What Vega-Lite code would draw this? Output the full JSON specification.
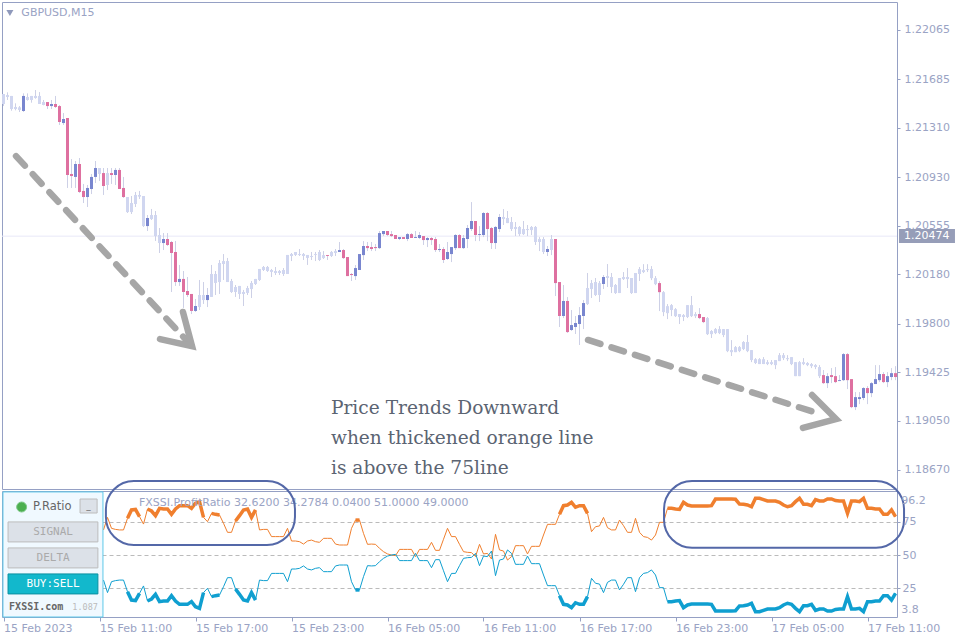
{"$schema":"https://vega.github.io/schema/vega-lite/v6.json","background":"white","padding":{"left":1,"top":1,"right":0,"bottom":0},"spacing":2,"bounds":"flush","config":{"view":{"stroke":"#95a0c4","strokeWidth":1},"axis":{"title":null,"grid":false,"domain":false,"labelFont":"DejaVu Sans","labelFontSize":11,"labelColor":"#9aa3c4","tickColor":"#95a0c4"},"text":{"font":"DejaVu Sans","fontSize":11},"concat":{"spacing":2}},"datasets":{"rows":[
{"t":"2023-02-15T05:00Z","k":"m","o":1.21571,"c":1.21494,"h":1.21571,"l":1.21478},
{"t":"2023-02-15T05:15Z","k":"m","o":1.21563,"c":1.21548,"h":1.21584,"l":1.21525},
{"t":"2023-02-15T05:30Z","k":"m","o":1.21556,"c":1.21455,"h":1.21556,"l":1.21442},
{"t":"2023-02-15T05:45Z","k":"m","o":1.21471,"c":1.21455,"h":1.21499,"l":1.21445},
{"t":"2023-02-15T06:00Z","k":"m","o":1.21468,"c":1.21448,"h":1.21478,"l":1.21432},
{"t":"2023-02-15T06:15Z","k":"u","o":1.2144,"c":1.21556,"h":1.21576,"l":1.21432},
{"t":"2023-02-15T06:30Z","k":"m","o":1.21548,"c":1.21525,"h":1.21576,"l":1.2152},
{"t":"2023-02-15T06:45Z","k":"m","o":1.21556,"c":1.21525,"h":1.21556,"l":1.21504},
{"t":"2023-02-15T07:00Z","k":"m","o":1.21556,"c":1.2154,"h":1.21602,"l":1.21535},
{"t":"2023-02-15T07:15Z","k":"m","o":1.21556,"c":1.21494,"h":1.21586,"l":1.21494},
{"t":"2023-02-15T07:30Z","k":"m","o":1.21509,"c":1.21486,"h":1.21525,"l":1.21484},
{"t":"2023-02-15T07:45Z","k":"d","o":1.21509,"c":1.21478,"h":1.21509,"l":1.21455},
{"t":"2023-02-15T08:00Z","k":"u","o":1.21478,"c":1.21494,"h":1.21525,"l":1.21455},
{"t":"2023-02-15T08:15Z","k":"d","o":1.21494,"c":1.21471,"h":1.21556,"l":1.21463},
{"t":"2023-02-15T08:30Z","k":"d","o":1.21478,"c":1.21355,"h":1.21486,"l":1.21332},
{"t":"2023-02-15T08:45Z","k":"u","o":1.21347,"c":1.21378,"h":1.21424,"l":1.21332},
{"t":"2023-02-15T09:00Z","k":"d","o":1.21386,"c":1.20946,"h":1.21386,"l":1.20846},
{"t":"2023-02-15T09:15Z","k":"d","o":1.20954,"c":1.20938,"h":1.21069,"l":1.20846},
{"t":"2023-02-15T09:30Z","k":"u","o":1.20931,"c":1.21031,"h":1.21054,"l":1.20846},
{"t":"2023-02-15T09:45Z","k":"d","o":1.21031,"c":1.20815,"h":1.21077,"l":1.20807},
{"t":"2023-02-15T10:00Z","k":"d","o":1.20823,"c":1.20776,"h":1.20877,"l":1.2073},
{"t":"2023-02-15T10:15Z","k":"u","o":1.20776,"c":1.20846,"h":1.20869,"l":1.20699},
{"t":"2023-02-15T10:30Z","k":"u","o":1.20838,"c":1.20931,"h":1.20954,"l":1.20799},
{"t":"2023-02-15T10:45Z","k":"u","o":1.20931,"c":1.21,"h":1.21054,"l":1.20884},
{"t":"2023-02-15T11:00Z","k":"m","o":1.21,"c":1.20954,"h":1.21,"l":1.209},
{"t":"2023-02-15T11:15Z","k":"d","o":1.20961,"c":1.20861,"h":1.21,"l":1.20792,"sell":68.8,"buy":31.2},
{"t":"2023-02-15T11:30Z","k":"m","o":1.20961,"c":1.20869,"h":1.21,"l":1.2083,"sell":78.2,"buy":21.8},
{"t":"2023-02-15T11:45Z","k":"d","o":1.20961,"c":1.20946,"h":1.21,"l":1.20877,"sell":70,"buy":30},
{"t":"2023-02-15T12:00Z","k":"u","o":1.20946,"c":1.20985,"h":1.21,"l":1.20869,"sell":69.2,"buy":30.8},
{"t":"2023-02-15T12:15Z","k":"d","o":1.20985,"c":1.20838,"h":1.21,"l":1.20838,"sell":68.8,"buy":31.2},
{"t":"2023-02-15T12:30Z","k":"d","o":1.20846,"c":1.20776,"h":1.20931,"l":1.20769,"sell":68.8,"buy":31.2},
{"t":"2023-02-15T12:45Z","k":"m","o":1.20776,"c":1.2066,"h":1.20776,"l":1.20653,"sell":77.5,"buy":22.5,"seg":1},
{"t":"2023-02-15T13:00Z","k":"m","o":1.2073,"c":1.2066,"h":1.20784,"l":1.20645,"sell":83.8,"buy":16.2,"seg":1},
{"t":"2023-02-15T13:15Z","k":"m","o":1.20792,"c":1.20722,"h":1.20815,"l":1.20699,"sell":84.2,"buy":15.8,"seg":1},
{"t":"2023-02-15T13:30Z","k":"m","o":1.20792,"c":1.20779,"h":1.20823,"l":1.20761,"sell":78.8,"buy":21.2,"seg":1},
{"t":"2023-02-15T13:45Z","k":"m","o":1.20784,"c":1.20552,"h":1.20784,"l":1.20545,"sell":73.2,"buy":26.8},
{"t":"2023-02-15T14:00Z","k":"u","o":1.20552,"c":1.20614,"h":1.20637,"l":1.20514,"sell":84.5,"buy":15.5,"seg":2},
{"t":"2023-02-15T14:15Z","k":"m","o":1.20637,"c":1.20606,"h":1.20684,"l":1.20599,"sell":83,"buy":17,"seg":2},
{"t":"2023-02-15T14:30Z","k":"m","o":1.20637,"c":1.20475,"h":1.20668,"l":1.20437,"sell":79.5,"buy":20.5,"seg":2},
{"t":"2023-02-15T14:45Z","k":"m","o":1.20483,"c":1.20421,"h":1.20537,"l":1.20344,"sell":85,"buy":15,"seg":2},
{"t":"2023-02-15T15:00Z","k":"u","o":1.20421,"c":1.20452,"h":1.20498,"l":1.20367,"sell":84.5,"buy":15.5,"seg":2},
{"t":"2023-02-15T15:15Z","k":"d","o":1.20452,"c":1.20406,"h":1.20498,"l":1.20398,"sell":84.5,"buy":15.5,"seg":2},
{"t":"2023-02-15T15:30Z","k":"d","o":1.20429,"c":1.20344,"h":1.20437,"l":1.20043,"sell":80.5,"buy":19.5,"seg":2},
{"t":"2023-02-15T15:45Z","k":"d","o":1.20352,"c":1.2012,"h":1.20437,"l":1.2009,"sell":84.5,"buy":15.5,"seg":2},
{"t":"2023-02-15T16:00Z","k":"u","o":1.2012,"c":1.20144,"h":1.20252,"l":1.2009,"sell":87,"buy":13,"seg":2},
{"t":"2023-02-15T16:15Z","k":"d","o":1.20144,"c":1.20043,"h":1.20205,"l":1.1992,"sell":87,"buy":13,"seg":2},
{"t":"2023-02-15T16:30Z","k":"d","o":1.20051,"c":1.2002,"h":1.20159,"l":1.20005,"sell":87,"buy":13,"seg":2},
{"t":"2023-02-15T16:45Z","k":"d","o":1.20028,"c":1.19897,"h":1.20028,"l":1.19873,"sell":85,"buy":15,"seg":2},
{"t":"2023-02-15T17:00Z","k":"u","o":1.19897,"c":1.19935,"h":1.19989,"l":1.19889,"sell":88.8,"buy":11.2,"seg":2},
{"t":"2023-02-15T17:15Z","k":"m","o":1.2002,"c":1.19927,"h":1.20136,"l":1.19904,"sell":90,"buy":10,"seg":2},
{"t":"2023-02-15T17:30Z","k":"m","o":1.2002,"c":1.19981,"h":1.2012,"l":1.19951,"sell":78.2,"buy":21.8,"seg":2},
{"t":"2023-02-15T17:45Z","k":"u","o":1.19981,"c":1.2002,"h":1.20074,"l":1.19927,"sell":75,"buy":25},
{"t":"2023-02-15T18:00Z","k":"m","o":1.20182,"c":1.20005,"h":1.20252,"l":1.20005,"sell":81.2,"buy":18.8,"seg":3},
{"t":"2023-02-15T18:15Z","k":"m","o":1.20182,"c":1.20113,"h":1.20205,"l":1.2002,"sell":80.5,"buy":19.5,"seg":3},
{"t":"2023-02-15T18:30Z","k":"m","o":1.20267,"c":1.2012,"h":1.2029,"l":1.20028,"sell":80,"buy":20,"seg":3},
{"t":"2023-02-15T18:45Z","k":"m","o":1.20282,"c":1.20259,"h":1.20336,"l":1.20136,"sell":73.8,"buy":26.2},
{"t":"2023-02-15T19:00Z","k":"m","o":1.20282,"c":1.2012,"h":1.20306,"l":1.2012,"sell":67,"buy":33},
{"t":"2023-02-15T19:15Z","k":"m","o":1.20128,"c":1.20043,"h":1.20144,"l":1.20036,"sell":67,"buy":33},
{"t":"2023-02-15T19:30Z","k":"m","o":1.20082,"c":1.20043,"h":1.20097,"l":1.20005,"sell":75.5,"buy":24.5,"seg":4},
{"t":"2023-02-15T19:45Z","k":"m","o":1.2009,"c":1.20028,"h":1.2009,"l":1.19989,"sell":79.5,"buy":20.5,"seg":4},
{"t":"2023-02-15T20:00Z","k":"m","o":1.20043,"c":1.20028,"h":1.20059,"l":1.19935,"sell":83.8,"buy":16.2,"seg":4},
{"t":"2023-02-15T20:15Z","k":"m","o":1.20074,"c":1.20036,"h":1.2009,"l":1.2002,"sell":84.5,"buy":15.5,"seg":4},
{"t":"2023-02-15T20:30Z","k":"m","o":1.20113,"c":1.20066,"h":1.20128,"l":1.19997,"sell":78.2,"buy":21.8,"seg":4},
{"t":"2023-02-15T20:45Z","k":"m","o":1.20144,"c":1.20105,"h":1.20144,"l":1.20097,"sell":83.8,"buy":16.2,"seg":4},
{"t":"2023-02-15T21:00Z","k":"m","o":1.20221,"c":1.20136,"h":1.20221,"l":1.20128,"sell":68.8,"buy":31.2},
{"t":"2023-02-15T21:15Z","k":"m","o":1.20236,"c":1.20213,"h":1.20244,"l":1.20205,"sell":69.2,"buy":30.8},
{"t":"2023-02-15T21:30Z","k":"m","o":1.20236,"c":1.20205,"h":1.20244,"l":1.20198,"sell":69.2,"buy":30.8},
{"t":"2023-02-15T21:45Z","k":"m","o":1.20213,"c":1.20198,"h":1.20221,"l":1.20159,"sell":63.8,"buy":36.2},
{"t":"2023-02-15T22:00Z","k":"m","o":1.20205,"c":1.2019,"h":1.20236,"l":1.20174,"sell":63.8,"buy":36.2},
{"t":"2023-02-15T22:15Z","k":"m","o":1.20205,"c":1.2019,"h":1.20213,"l":1.20174,"sell":63.8,"buy":36.2},
{"t":"2023-02-15T22:30Z","k":"m","o":1.20213,"c":1.20182,"h":1.20228,"l":1.20167,"sell":63.8,"buy":36.2},
{"t":"2023-02-15T22:45Z","k":"m","o":1.20329,"c":1.20182,"h":1.20329,"l":1.20182,"sell":70,"buy":30},
{"t":"2023-02-15T23:00Z","k":"m","o":1.20336,"c":1.20321,"h":1.20344,"l":1.20282,"sell":60.5,"buy":39.5},
{"t":"2023-02-15T23:15Z","k":"m","o":1.20352,"c":1.20329,"h":1.20352,"l":1.20321,"sell":60.5,"buy":39.5},
{"t":"2023-02-15T23:30Z","k":"m","o":1.20336,"c":1.20329,"h":1.20375,"l":1.20321,"sell":60,"buy":40},
{"t":"2023-02-15T23:45Z","k":"m","o":1.20336,"c":1.20321,"h":1.20344,"l":1.2029,"sell":58.2,"buy":41.8},
{"t":"2023-02-16T00:00Z","k":"m","o":1.20329,"c":1.20306,"h":1.20329,"l":1.20252,"sell":60.5,"buy":39.5},
{"t":"2023-02-16T00:15Z","k":"m","o":1.20321,"c":1.20313,"h":1.20352,"l":1.2029,"sell":61.2,"buy":38.8},
{"t":"2023-02-16T00:30Z","k":"m","o":1.20336,"c":1.20329,"h":1.20352,"l":1.20282,"sell":60,"buy":40},
{"t":"2023-02-16T00:45Z","k":"m","o":1.20352,"c":1.2029,"h":1.20367,"l":1.20282,"sell":59.5,"buy":40.5},
{"t":"2023-02-16T01:00Z","k":"m","o":1.20328,"c":1.20305,"h":1.20359,"l":1.20298,"sell":62.5,"buy":37.5},
{"t":"2023-02-16T01:15Z","k":"d","o":1.20328,"c":1.20321,"h":1.20328,"l":1.2029,"sell":62.5,"buy":37.5},
{"t":"2023-02-16T01:30Z","k":"m","o":1.20352,"c":1.20321,"h":1.20359,"l":1.20313,"sell":62.5,"buy":37.5},
{"t":"2023-02-16T01:45Z","k":"m","o":1.20359,"c":1.20344,"h":1.20375,"l":1.20321,"sell":58.2,"buy":41.8},
{"t":"2023-02-16T02:00Z","k":"u","o":1.20352,"c":1.20367,"h":1.20429,"l":1.20352,"sell":57.5,"buy":42.5},
{"t":"2023-02-16T02:15Z","k":"d","o":1.20367,"c":1.20305,"h":1.20375,"l":1.20298,"sell":57.5,"buy":42.5},
{"t":"2023-02-16T02:30Z","k":"d","o":1.20313,"c":1.20166,"h":1.20313,"l":1.20166,"sell":57.5,"buy":42.5},
{"t":"2023-02-16T02:45Z","k":"d","o":1.20182,"c":1.20174,"h":1.2019,"l":1.20128,"sell":70,"buy":30},
{"t":"2023-02-16T03:00Z","k":"u","o":1.20166,"c":1.20228,"h":1.20251,"l":1.20136,"sell":76.2,"buy":23.8,"seg":5},
{"t":"2023-02-16T03:15Z","k":"u","o":1.20213,"c":1.20336,"h":1.20336,"l":1.20213,"sell":76.2,"buy":23.8,"seg":5},
{"t":"2023-02-16T03:30Z","k":"u","o":1.20328,"c":1.20398,"h":1.20436,"l":1.2029,"sell":66.2,"buy":33.8},
{"t":"2023-02-16T03:45Z","k":"d","o":1.20398,"c":1.20382,"h":1.20429,"l":1.20359,"sell":58,"buy":42},
{"t":"2023-02-16T04:00Z","k":"d","o":1.2039,"c":1.20375,"h":1.20429,"l":1.20359,"sell":58.2,"buy":41.8},
{"t":"2023-02-16T04:15Z","k":"d","o":1.2039,"c":1.20382,"h":1.20413,"l":1.20359,"sell":58,"buy":42},
{"t":"2023-02-16T04:30Z","k":"u","o":1.20382,"c":1.20498,"h":1.20514,"l":1.20375,"sell":55,"buy":45},
{"t":"2023-02-16T04:45Z","k":"u","o":1.2049,"c":1.20514,"h":1.20514,"l":1.20475,"sell":52.5,"buy":47.5},
{"t":"2023-02-16T05:00Z","k":"d","o":1.20514,"c":1.20483,"h":1.20514,"l":1.20475,"sell":50.8,"buy":49.2},
{"t":"2023-02-16T05:15Z","k":"d","o":1.2049,"c":1.20475,"h":1.20514,"l":1.20467,"sell":50,"buy":50},
{"t":"2023-02-16T05:30Z","k":"d","o":1.20483,"c":1.20452,"h":1.20483,"l":1.20452,"sell":49.5,"buy":50.5},
{"t":"2023-02-16T05:45Z","k":"u","o":1.20452,"c":1.20467,"h":1.20467,"l":1.20444,"sell":54.2,"buy":45.8},
{"t":"2023-02-16T06:00Z","k":"d","o":1.20467,"c":1.20452,"h":1.20467,"l":1.20452,"sell":54.2,"buy":45.8},
{"t":"2023-02-16T06:15Z","k":"u","o":1.20452,"c":1.2049,"h":1.20498,"l":1.20436,"sell":54.2,"buy":45.8},
{"t":"2023-02-16T06:30Z","k":"d","o":1.2049,"c":1.2046,"h":1.20498,"l":1.2046,"sell":54.2,"buy":45.8},
{"t":"2023-02-16T06:45Z","k":"u","o":1.2046,"c":1.20467,"h":1.20514,"l":1.2046,"sell":48.8,"buy":51.2},
{"t":"2023-02-16T07:00Z","k":"u","o":1.2046,"c":1.20483,"h":1.20506,"l":1.20452,"sell":54.2,"buy":45.8},
{"t":"2023-02-16T07:15Z","k":"d","o":1.20475,"c":1.20444,"h":1.20475,"l":1.20406,"sell":54.2,"buy":45.8},
{"t":"2023-02-16T07:30Z","k":"u","o":1.20444,"c":1.2046,"h":1.20467,"l":1.2039,"sell":54.2,"buy":45.8},
{"t":"2023-02-16T07:45Z","k":"d","o":1.2046,"c":1.20444,"h":1.20467,"l":1.20406,"sell":59.5,"buy":40.5},
{"t":"2023-02-16T08:00Z","k":"d","o":1.20452,"c":1.20367,"h":1.20467,"l":1.20352,"sell":53.5,"buy":46.5},
{"t":"2023-02-16T08:15Z","k":"u","o":1.20367,"c":1.20375,"h":1.20413,"l":1.20352,"sell":53.5,"buy":46.5},
{"t":"2023-02-16T08:30Z","k":"d","o":1.20375,"c":1.2029,"h":1.2039,"l":1.20267,"sell":61.8,"buy":38.2},
{"t":"2023-02-16T08:45Z","k":"u","o":1.20298,"c":1.20352,"h":1.20429,"l":1.2029,"sell":70,"buy":30},
{"t":"2023-02-16T09:00Z","k":"u","o":1.20336,"c":1.2039,"h":1.2039,"l":1.20274,"sell":63.8,"buy":36.2},
{"t":"2023-02-16T09:15Z","k":"u","o":1.20382,"c":1.20483,"h":1.2049,"l":1.20367,"sell":63.8,"buy":36.2},
{"t":"2023-02-16T09:30Z","k":"d","o":1.20483,"c":1.20382,"h":1.2049,"l":1.20382,"sell":58,"buy":42},
{"t":"2023-02-16T09:45Z","k":"u","o":1.20382,"c":1.2046,"h":1.20483,"l":1.20375,"sell":52.5,"buy":47.5},
{"t":"2023-02-16T10:00Z","k":"u","o":1.20452,"c":1.20537,"h":1.2056,"l":1.20382,"sell":52,"buy":48},
{"t":"2023-02-16T10:15Z","k":"u","o":1.20529,"c":1.20591,"h":1.20737,"l":1.20514,"sell":51.8,"buy":48.2},
{"t":"2023-02-16T10:30Z","k":"d","o":1.20591,"c":1.20483,"h":1.20591,"l":1.20436,"sell":48.8,"buy":51.2},
{"t":"2023-02-16T10:45Z","k":"u","o":1.20483,"c":1.2049,"h":1.20552,"l":1.20436,"sell":58,"buy":42},
{"t":"2023-02-16T11:00Z","k":"u","o":1.20483,"c":1.20653,"h":1.2066,"l":1.20467,"sell":50.8,"buy":49.2},
{"t":"2023-02-16T11:15Z","k":"d","o":1.20653,"c":1.20529,"h":1.2066,"l":1.20436,"sell":51.2,"buy":48.8},
{"t":"2023-02-16T11:30Z","k":"d","o":1.20537,"c":1.20421,"h":1.20545,"l":1.20375,"sell":47,"buy":53},
{"t":"2023-02-16T11:45Z","k":"u","o":1.20421,"c":1.20545,"h":1.20552,"l":1.20375,"sell":65.5,"buy":34.5},
{"t":"2023-02-16T12:00Z","k":"u","o":1.20529,"c":1.20622,"h":1.20645,"l":1.20506,"sell":53.8,"buy":46.2},
{"t":"2023-02-16T12:15Z","k":"m","o":1.20622,"c":1.20606,"h":1.20683,"l":1.2056,"sell":53,"buy":47},
{"t":"2023-02-16T12:30Z","k":"m","o":1.20614,"c":1.20575,"h":1.20668,"l":1.20575,"sell":46.2,"buy":53.8},
{"t":"2023-02-16T12:45Z","k":"m","o":1.20583,"c":1.20529,"h":1.20622,"l":1.20514,"sell":48.8,"buy":51.2},
{"t":"2023-02-16T13:00Z","k":"m","o":1.20545,"c":1.20529,"h":1.20583,"l":1.20475,"sell":57,"buy":43},
{"t":"2023-02-16T13:15Z","k":"m","o":1.20545,"c":1.2049,"h":1.20552,"l":1.20475,"sell":57,"buy":43},
{"t":"2023-02-16T13:30Z","k":"m","o":1.20529,"c":1.2049,"h":1.20591,"l":1.20483,"sell":57,"buy":43},
{"t":"2023-02-16T13:45Z","k":"m","o":1.20529,"c":1.20521,"h":1.2056,"l":1.20475,"sell":50.8,"buy":49.2},
{"t":"2023-02-16T14:00Z","k":"m","o":1.20545,"c":1.20521,"h":1.20552,"l":1.20483,"sell":56.5,"buy":43.5},
{"t":"2023-02-16T14:15Z","k":"m","o":1.20545,"c":1.20429,"h":1.20552,"l":1.20406,"sell":56.5,"buy":43.5},
{"t":"2023-02-16T14:30Z","k":"m","o":1.20452,"c":1.20429,"h":1.20467,"l":1.20359,"sell":56.5,"buy":43.5},
{"t":"2023-02-16T14:45Z","k":"m","o":1.20452,"c":1.20352,"h":1.20467,"l":1.20336,"sell":65,"buy":35},
{"t":"2023-02-16T15:00Z","k":"u","o":1.20352,"c":1.20375,"h":1.20398,"l":1.20321,"sell":73,"buy":27},
{"t":"2023-02-16T15:15Z","k":"m","o":1.20452,"c":1.20367,"h":1.20483,"l":1.20328,"sell":73,"buy":27},
{"t":"2023-02-16T15:30Z","k":"d","o":1.20452,"c":1.20112,"h":1.20452,"l":1.20012,"sell":73,"buy":27},
{"t":"2023-02-16T15:45Z","k":"d","o":1.2012,"c":1.19858,"h":1.2012,"l":1.19773,"sell":80.5,"buy":19.5,"seg":6},
{"t":"2023-02-16T16:00Z","k":"u","o":1.19858,"c":1.19974,"h":1.20097,"l":1.19842,"sell":87,"buy":13,"seg":6},
{"t":"2023-02-16T16:15Z","k":"d","o":1.19974,"c":1.19734,"h":1.20004,"l":1.19727,"sell":87.5,"buy":12.5,"seg":6},
{"t":"2023-02-16T16:30Z","k":"u","o":1.1975,"c":1.19788,"h":1.19904,"l":1.19742,"sell":89.5,"buy":10.5,"seg":6},
{"t":"2023-02-16T16:45Z","k":"u","o":1.19773,"c":1.19804,"h":1.19858,"l":1.19719,"sell":85.8,"buy":14.2,"seg":6},
{"t":"2023-02-16T17:00Z","k":"u","o":1.19796,"c":1.19865,"h":1.19927,"l":1.19634,"sell":87,"buy":13,"seg":6},
{"t":"2023-02-16T17:15Z","k":"u","o":1.19858,"c":1.19958,"h":1.19981,"l":1.19757,"sell":87,"buy":13,"seg":6},
{"t":"2023-02-16T17:30Z","k":"m","o":1.20074,"c":1.1995,"h":1.2019,"l":1.19943,"sell":81.2,"buy":18.8,"seg":6},
{"t":"2023-02-16T17:45Z","k":"m","o":1.20112,"c":1.20066,"h":1.20136,"l":1.19997,"sell":67.5,"buy":32.5},
{"t":"2023-02-16T18:00Z","k":"m","o":1.2012,"c":1.2002,"h":1.20151,"l":1.20012,"sell":71.2,"buy":28.8},
{"t":"2023-02-16T18:15Z","k":"m","o":1.20112,"c":1.2002,"h":1.20128,"l":1.19966,"sell":71.8,"buy":28.2},
{"t":"2023-02-16T18:30Z","k":"u","o":1.20105,"c":1.20159,"h":1.20174,"l":1.20066,"sell":78.2,"buy":21.8},
{"t":"2023-02-16T18:45Z","k":"m","o":1.20166,"c":1.20151,"h":1.20259,"l":1.20082,"sell":70.5,"buy":29.5},
{"t":"2023-02-16T19:00Z","k":"m","o":1.20159,"c":1.20082,"h":1.2019,"l":1.20035,"sell":68.8,"buy":31.2},
{"t":"2023-02-16T19:15Z","k":"m","o":1.20097,"c":1.20035,"h":1.20105,"l":1.20028,"sell":68.8,"buy":31.2},
{"t":"2023-02-16T19:30Z","k":"m","o":1.20151,"c":1.20035,"h":1.20151,"l":1.20035,"sell":76.2,"buy":23.8},
{"t":"2023-02-16T19:45Z","k":"m","o":1.20159,"c":1.20143,"h":1.20197,"l":1.20136,"sell":72,"buy":28},
{"t":"2023-02-16T20:00Z","k":"m","o":1.20159,"c":1.20143,"h":1.20228,"l":1.20074,"sell":67,"buy":33},
{"t":"2023-02-16T20:15Z","k":"m","o":1.20151,"c":1.20035,"h":1.20151,"l":1.20028,"sell":67,"buy":33},
{"t":"2023-02-16T20:30Z","k":"m","o":1.2019,"c":1.20035,"h":1.2019,"l":1.20035,"sell":77.5,"buy":22.5},
{"t":"2023-02-16T20:45Z","k":"m","o":1.2022,"c":1.20182,"h":1.20236,"l":1.20128,"sell":67,"buy":33},
{"t":"2023-02-16T21:00Z","k":"m","o":1.20212,"c":1.20197,"h":1.20258,"l":1.20189,"sell":63.8,"buy":36.2},
{"t":"2023-02-16T21:15Z","k":"m","o":1.2022,"c":1.20212,"h":1.20258,"l":1.20197,"sell":63.2,"buy":36.8},
{"t":"2023-02-16T21:30Z","k":"m","o":1.2022,"c":1.2015,"h":1.20243,"l":1.20135,"sell":61.2,"buy":38.8},
{"t":"2023-02-16T21:45Z","k":"m","o":1.2015,"c":1.20104,"h":1.20166,"l":1.20096,"sell":65,"buy":35},
{"t":"2023-02-16T22:00Z","k":"d","o":1.20112,"c":1.20042,"h":1.20127,"l":1.19896,"sell":74.5,"buy":25.5},
{"t":"2023-02-16T22:15Z","k":"m","o":1.20042,"c":1.19888,"h":1.2005,"l":1.19857,"sell":74.5,"buy":25.5},
{"t":"2023-02-16T22:30Z","k":"m","o":1.19934,"c":1.1988,"h":1.1995,"l":1.19834,"sell":85,"buy":15,"seg":7},
{"t":"2023-02-16T22:45Z","k":"m","o":1.19942,"c":1.19904,"h":1.1995,"l":1.19857,"sell":85,"buy":15,"seg":7},
{"t":"2023-02-16T23:00Z","k":"m","o":1.19911,"c":1.19857,"h":1.19919,"l":1.1985,"sell":84.5,"buy":15.5,"seg":7},
{"t":"2023-02-16T23:15Z","k":"m","o":1.19873,"c":1.1985,"h":1.19873,"l":1.19796,"sell":84.2,"buy":15.8,"seg":7},
{"t":"2023-02-16T23:30Z","k":"m","o":1.19865,"c":1.1985,"h":1.19873,"l":1.19819,"sell":89.5,"buy":10.5,"seg":7},
{"t":"2023-02-16T23:45Z","k":"m","o":1.19942,"c":1.1985,"h":1.19942,"l":1.19842,"sell":87.5,"buy":12.5,"seg":7},
{"t":"2023-02-17T00:00Z","k":"m","o":1.19942,"c":1.19857,"h":1.20012,"l":1.1985,"sell":86.8,"buy":13.2,"seg":7},
{"t":"2023-02-17T00:15Z","k":"m","o":1.19873,"c":1.19857,"h":1.19888,"l":1.19842,"sell":86.8,"buy":13.2,"seg":7},
{"t":"2023-02-17T00:30Z","k":"d","o":1.19873,"c":1.19842,"h":1.19919,"l":1.19834,"sell":86.8,"buy":13.2,"seg":7},
{"t":"2023-02-17T00:45Z","k":"d","o":1.1985,"c":1.19811,"h":1.1985,"l":1.19803,"sell":86.8,"buy":13.2,"seg":7},
{"t":"2023-02-17T01:00Z","k":"m","o":1.19842,"c":1.19718,"h":1.1985,"l":1.19711,"sell":86.8,"buy":13.2,"seg":7},
{"t":"2023-02-17T01:15Z","k":"m","o":1.19742,"c":1.19718,"h":1.19749,"l":1.19688,"sell":87,"buy":13,"seg":7},
{"t":"2023-02-17T01:30Z","k":"m","o":1.19757,"c":1.19726,"h":1.19765,"l":1.19718,"sell":92,"buy":8,"seg":7},
{"t":"2023-02-17T01:45Z","k":"m","o":1.19757,"c":1.19726,"h":1.1978,"l":1.19718,"sell":92,"buy":8,"seg":7},
{"t":"2023-02-17T02:00Z","k":"m","o":1.19757,"c":1.19711,"h":1.19757,"l":1.19695,"sell":92,"buy":8,"seg":7},
{"t":"2023-02-17T02:15Z","k":"m","o":1.19757,"c":1.19587,"h":1.19757,"l":1.19579,"sell":92,"buy":8,"seg":7},
{"t":"2023-02-17T02:30Z","k":"m","o":1.19595,"c":1.19579,"h":1.19672,"l":1.19549,"sell":92,"buy":8,"seg":7},
{"t":"2023-02-17T02:45Z","k":"m","o":1.19618,"c":1.19579,"h":1.19626,"l":1.19579,"sell":91.8,"buy":8.2,"seg":7},
{"t":"2023-02-17T03:00Z","k":"m","o":1.19618,"c":1.19587,"h":1.19626,"l":1.19579,"sell":88.2,"buy":11.8,"seg":7},
{"t":"2023-02-17T03:15Z","k":"m","o":1.19657,"c":1.19603,"h":1.19664,"l":1.19595,"sell":88,"buy":12,"seg":7},
{"t":"2023-02-17T03:30Z","k":"m","o":1.19657,"c":1.19587,"h":1.19711,"l":1.19579,"sell":87.5,"buy":12.5,"seg":7},
{"t":"2023-02-17T03:45Z","k":"m","o":1.19595,"c":1.19518,"h":1.19595,"l":1.19502,"sell":86.2,"buy":13.8,"seg":7},
{"t":"2023-02-17T04:00Z","k":"m","o":1.19525,"c":1.19495,"h":1.19533,"l":1.19487,"sell":92.5,"buy":7.5,"seg":7},
{"t":"2023-02-17T04:15Z","k":"m","o":1.19525,"c":1.19487,"h":1.19533,"l":1.19487,"sell":92.5,"buy":7.5,"seg":7},
{"t":"2023-02-17T04:30Z","k":"m","o":1.19525,"c":1.19487,"h":1.19541,"l":1.19487,"sell":91.5,"buy":8.5,"seg":7},
{"t":"2023-02-17T04:45Z","k":"m","o":1.19502,"c":1.19487,"h":1.19518,"l":1.19479,"sell":90.5,"buy":9.5,"seg":7},
{"t":"2023-02-17T05:00Z","k":"m","o":1.19502,"c":1.19487,"h":1.19518,"l":1.19479,"sell":90.5,"buy":9.5,"seg":7},
{"t":"2023-02-17T05:15Z","k":"m","o":1.19518,"c":1.19479,"h":1.19518,"l":1.19448,"sell":90.5,"buy":9.5,"seg":7},
{"t":"2023-02-17T05:30Z","k":"m","o":1.19556,"c":1.1951,"h":1.19572,"l":1.1951,"sell":89.5,"buy":10.5,"seg":7},
{"t":"2023-02-17T05:45Z","k":"m","o":1.19556,"c":1.19533,"h":1.19572,"l":1.19518,"sell":87.5,"buy":12.5,"seg":7},
{"t":"2023-02-17T06:00Z","k":"m","o":1.19533,"c":1.19525,"h":1.19556,"l":1.1951,"sell":86.2,"buy":13.8,"seg":7},
{"t":"2023-02-17T06:15Z","k":"m","o":1.19541,"c":1.19487,"h":1.19541,"l":1.19479,"sell":87,"buy":13,"seg":7},
{"t":"2023-02-17T06:30Z","k":"m","o":1.19502,"c":1.19394,"h":1.19502,"l":1.19394,"sell":90,"buy":10,"seg":7},
{"t":"2023-02-17T06:45Z","k":"m","o":1.19502,"c":1.19394,"h":1.1951,"l":1.19394,"sell":92.5,"buy":7.5,"seg":7},
{"t":"2023-02-17T07:00Z","k":"m","o":1.19502,"c":1.19487,"h":1.19533,"l":1.19479,"sell":88,"buy":12,"seg":7},
{"t":"2023-02-17T07:15Z","k":"m","o":1.19495,"c":1.19479,"h":1.19502,"l":1.19471,"sell":88,"buy":12,"seg":7},
{"t":"2023-02-17T07:30Z","k":"m","o":1.19487,"c":1.19471,"h":1.19495,"l":1.19456,"sell":87,"buy":13,"seg":7},
{"t":"2023-02-17T07:45Z","k":"m","o":1.19479,"c":1.19464,"h":1.19487,"l":1.19448,"sell":91.5,"buy":8.5,"seg":7},
{"t":"2023-02-17T08:00Z","k":"m","o":1.19464,"c":1.19394,"h":1.19479,"l":1.19379,"sell":90.5,"buy":9.5,"seg":7},
{"t":"2023-02-17T08:15Z","k":"d","o":1.19402,"c":1.1934,"h":1.19441,"l":1.19333,"sell":90.5,"buy":9.5,"seg":7},
{"t":"2023-02-17T08:30Z","k":"u","o":1.1934,"c":1.19394,"h":1.19417,"l":1.19302,"sell":92,"buy":8,"seg":7},
{"t":"2023-02-17T08:45Z","k":"d","o":1.19402,"c":1.19387,"h":1.19456,"l":1.1934,"sell":92,"buy":8,"seg":7},
{"t":"2023-02-17T09:00Z","k":"d","o":1.19394,"c":1.19348,"h":1.19464,"l":1.1934,"sell":90.8,"buy":9.2,"seg":7},
{"t":"2023-02-17T09:15Z","k":"u","o":1.19356,"c":1.19363,"h":1.19402,"l":1.19356,"sell":90.5,"buy":9.5,"seg":7},
{"t":"2023-02-17T09:30Z","k":"u","o":1.19363,"c":1.19564,"h":1.19572,"l":1.19356,"sell":90.5,"buy":9.5,"seg":7},
{"t":"2023-02-17T09:45Z","k":"d","o":1.19564,"c":1.19363,"h":1.19572,"l":1.19294,"sell":81.2,"buy":18.8,"seg":7},
{"t":"2023-02-17T10:00Z","k":"d","o":1.19371,"c":1.19155,"h":1.19371,"l":1.19147,"sell":90.5,"buy":9.5,"seg":7},
{"t":"2023-02-17T10:15Z","k":"u","o":1.19155,"c":1.19232,"h":1.19271,"l":1.19132,"sell":90.5,"buy":9.5,"seg":7},
{"t":"2023-02-17T10:30Z","k":"u","o":1.19217,"c":1.19232,"h":1.19271,"l":1.19178,"sell":90,"buy":10,"seg":7},
{"t":"2023-02-17T10:45Z","k":"u","o":1.19225,"c":1.19302,"h":1.19309,"l":1.19209,"sell":92.5,"buy":7.5,"seg":7},
{"t":"2023-02-17T11:00Z","k":"d","o":1.19302,"c":1.19263,"h":1.19317,"l":1.19178,"sell":85,"buy":15,"seg":7},
{"t":"2023-02-17T11:15Z","k":"u","o":1.19263,"c":1.1934,"h":1.19348,"l":1.19232,"sell":85,"buy":15,"seg":7},
{"t":"2023-02-17T11:30Z","k":"u","o":1.19333,"c":1.19371,"h":1.19479,"l":1.19333,"sell":84.5,"buy":15.5,"seg":7},
{"t":"2023-02-17T11:45Z","k":"u","o":1.19363,"c":1.1941,"h":1.19479,"l":1.19348,"sell":84.5,"buy":15.5,"seg":7},
{"t":"2023-02-17T12:00Z","k":"d","o":1.1941,"c":1.19348,"h":1.19425,"l":1.1934,"sell":80.5,"buy":19.5,"seg":7},
{"t":"2023-02-17T12:15Z","k":"u","o":1.19348,"c":1.19394,"h":1.19425,"l":1.19309,"sell":80.5,"buy":19.5,"seg":7},
{"t":"2023-02-17T12:30Z","k":"u","o":1.19387,"c":1.19417,"h":1.19456,"l":1.19363,"sell":83.8,"buy":16.2,"seg":7},
{"t":"2023-02-17T12:45Z","k":"d","o":1.19417,"c":1.19387,"h":1.19471,"l":1.19363,"sell":78.8,"buy":21.2,"seg":7}
]},"vconcat":[
{"width":895,"height":487,"data":{"name":"rows"},"encoding":{"x":{"field":"t","type":"temporal","scale":{"type":"utc","nice":false,"padding":0,"domain":[{"year":2023,"month":2,"date":15,"hours":4,"minutes":54,"seconds":22,"milliseconds":500,"utc":true},{"year":2023,"month":2,"date":17,"hours":12,"minutes":50,"seconds":37,"milliseconds":500,"utc":true}]},"axis":null},"y":{"field":"h","type":"quantitative","scale":{"domain":[1.18523,1.22281],"nice":false,"zero":false},"axis":{"orient":"right","values":[1.22065,1.21685,1.2131,1.2093,1.20555,1.2018,1.198,1.19425,1.1905,1.1867],"format":".5f","tickSize":3,"labelPadding":4}}},"layer":[
{"data":{"values":[{"h":1.20474}]},"mark":{"type":"rule","color":"#e8e8f8","strokeWidth":1},"encoding":{"x":{"value":0},"x2":{"value":895}}},
{"mark":{"type":"rule","color":"#cdd0e6","strokeWidth":1},"encoding":{"y2":{"field":"l"}}},
{"mark":{"type":"bar","size":3},"encoding":{"y":{"field":"o","type":"quantitative"},"y2":{"field":"c"},"color":{"field":"k","type":"nominal","legend":null,"scale":{"domain":["m","u","d"],"range":["#d0d6f0","#7986cf","#de70a0"]}}}},
{"data":{"values":[{"a":1,"t":"2023-02-15T05:47Z","h":1.21092},{"a":1,"t":"2023-02-15T16:39Z","h":1.19642},{"a":2,"t":"2023-02-16T17:32Z","h":1.19673},{"a":2,"t":"2023-02-17T08:02Z","h":1.19102}]},"mark":{"type":"line","color":"#a6a6a6","strokeWidth":6.5,"strokeCap":"round","strokeDash":[13,11.6]},"encoding":{"detail":{"field":"a"}}},
{"data":{"values":[{"a":1,"n":1,"t":"2023-02-15T14:47Z","h":1.1968},{"a":1,"n":2,"t":"2023-02-15T16:47Z","h":1.19626},{"a":1,"n":3,"t":"2023-02-15T16:13Z","h":1.19889},{"a":2,"n":1,"t":"2023-02-17T06:58Z","h":1.18994},{"a":2,"n":2,"t":"2023-02-17T09:02Z","h":1.19063},{"a":2,"n":3,"t":"2023-02-17T07:32Z","h":1.19248}]},"mark":{"type":"line","color":"#a6a6a6","strokeWidth":6.5,"strokeCap":"round","strokeJoin":"miter"},"encoding":{"detail":{"field":"a"},"order":{"field":"n","type":"quantitative"}}},
{"data":{"values":[{"label":"Price Trends Downward","t":"2023-02-16T01:28Z","h":1.19148},{"label":"when thickened orange line","t":"2023-02-16T01:28Z","h":1.18917},{"label":"is above the 75line","t":"2023-02-16T01:28Z","h":1.18685}]},"mark":{"type":"text","align":"left","baseline":"middle","font":"DejaVu Serif","fontSize":18.6,"color":"#5b6472"},"encoding":{"text":{"field":"label"}}},
{"data":{"values":[{"label":"GBPUSD,M15","t":"2023-02-15T06:07Z","h":1.22196}]},"mark":{"type":"text","align":"left","baseline":"middle","color":"#9aa3c4"},"encoding":{"text":{"field":"label"}}},
{"data":{"values":[{"t":"2023-02-15T05:24Z","h":1.22196}]},"mark":{"type":"point","shape":"triangle-down","filled":true,"size":50,"opacity":1,"color":"#8f99bb"}},
{"data":{"values":[{"t":"2023-02-17T12:58Z","t2":"2023-02-17T16:28Z","h":1.20529,"h2":1.20421}]},"mark":{"type":"rect","color":"#969db8"},"encoding":{"x2":{"field":"t2"},"y2":{"field":"h2"}}},
{"data":{"values":[{"label":"1.20474","t":"2023-02-17T13:17Z","h":1.20474}]},"mark":{"type":"text","align":"left","baseline":"middle","color":"white"},"encoding":{"text":{"field":"label"}}}
]},
{"width":895,"height":126,"data":{"name":"rows"},"encoding":{"x":{"field":"t","type":"temporal","scale":{"type":"utc","nice":false,"padding":0,"domain":[{"year":2023,"month":2,"date":15,"hours":4,"minutes":54,"seconds":22,"milliseconds":500,"utc":true},{"year":2023,"month":2,"date":17,"hours":12,"minutes":50,"seconds":37,"milliseconds":500,"utc":true}]},"axis":{"values":[{"year":2023,"month":2,"date":15,"hours":5,"utc":true},{"year":2023,"month":2,"date":15,"hours":11,"utc":true},{"year":2023,"month":2,"date":15,"hours":17,"utc":true},{"year":2023,"month":2,"date":15,"hours":23,"utc":true},{"year":2023,"month":2,"date":16,"hours":5,"utc":true},{"year":2023,"month":2,"date":16,"hours":11,"utc":true},{"year":2023,"month":2,"date":16,"hours":17,"utc":true},{"year":2023,"month":2,"date":16,"hours":23,"utc":true},{"year":2023,"month":2,"date":17,"hours":5,"utc":true},{"year":2023,"month":2,"date":17,"hours":11,"utc":true}],"labelExpr":"utcdate(datum.value)==15 && utchours(datum.value)==5 ? '15 Feb 2023' : utcFormat(datum.value,'%d %b %H:%M')","labelAlign":"left","labelOverlap":false,"labelFlush":false,"labelBound":false,"tickSize":4,"labelPadding":1}},"y":{"field":"sell","type":"quantitative","scale":{"domain":[3.5,98],"nice":false,"zero":false},"axis":{"orient":"right","values":[25,50,75],"grid":true,"gridColor":"#bbbbbb","gridDash":[4,3],"tickSize":3,"labelPadding":2}}},"layer":[
{"mark":{"type":"line","color":"#f07f2e","strokeWidth":1}},
{"mark":{"type":"line","color":"#0f9fd0","strokeWidth":1},"encoding":{"y":{"field":"buy","type":"quantitative"}}},
{"transform":[{"filter":"datum.seg>0"}],"mark":{"type":"line","color":"#f07f2e","strokeWidth":3.5},"encoding":{"detail":{"field":"seg"}}},
{"transform":[{"filter":"datum.seg>0"}],"mark":{"type":"line","color":"#0f9fd0","strokeWidth":3.5},"encoding":{"y":{"field":"buy","type":"quantitative"},"detail":{"field":"seg"}}},
{"data":{"values":[{"label":"FXSSI.ProfitRatio 32.6200 34.2784 0.0400 51.0000 49.0000","t":"2023-02-15T13:28Z","sell":89}]},"mark":{"type":"text","align":"left","baseline":"middle","color":"#9aa3c4"},"encoding":{"text":{"field":"label"}}},
{"data":{"values":[{"t":"2023-02-15T11:24Z","t2":"2023-02-15T23:13Z","sell":105.5,"sell2":57.5},{"t":"2023-02-16T22:17Z","t2":"2023-02-17T13:17Z","sell":105.5,"sell2":55.5}]},"mark":{"type":"rect","fillOpacity":0,"stroke":"#5468a8","strokeWidth":2,"cornerRadius":28},"encoding":{"x2":{"field":"t2"},"y2":{"field":"sell2"}}},
{"data":{"values":[{"label":"96.2","t":"2023-02-17T13:07Z","sell":90.75},{"label":"3.8","t":"2023-02-17T13:07Z","sell":8.8}]},"mark":{"type":"text","align":"left","baseline":"middle","color":"#9aa3c4"},"encoding":{"text":{"field":"label"}}},
{"data":{"values":[{"t":"2023-02-15T04:58Z","t2":"2023-02-15T11:13Z","sell":97.3,"sell2":3.5}]},"mark":{"type":"rect","fill":"#f0f9ff","stroke":"#5cc8e8","strokeWidth":1},"encoding":{"x2":{"field":"t2"},"y2":{"field":"sell2"}}},
{"data":{"values":[{"t":"2023-02-15T09:47Z","t2":"2023-02-15T10:51Z","sell":92,"sell2":81.5},{"t":"2023-02-15T05:17Z","t2":"2023-02-15T10:54Z","sell":74.8,"sell2":59.8},{"t":"2023-02-15T05:17Z","t2":"2023-02-15T10:54Z","sell":55.3,"sell2":40.3}]},"mark":{"type":"rect","fill":"#dce1e8","stroke":"#bcbcbc","strokeWidth":1},"encoding":{"x2":{"field":"t2"},"y2":{"field":"sell2"}}},
{"data":{"values":[{"t":"2023-02-15T05:17Z","t2":"2023-02-15T10:54Z","sell":35.8,"sell2":20.8}]},"mark":{"type":"rect","fill":"#12b8cc","stroke":"#0a8fa0","strokeWidth":1},"encoding":{"x2":{"field":"t2"},"y2":{"field":"sell2"}}},
{"data":{"values":[{"t":"2023-02-15T06:08Z","sell":86}]},"mark":{"type":"point","shape":"circle","filled":true,"size":100,"opacity":1,"color":"#4caf50","stroke":"#7fc98a","strokeWidth":1}},
{"data":{"values":[{"label":"P.Ratio","t":"2023-02-15T06:51Z","sell":86}]},"mark":{"type":"text","align":"left","baseline":"middle","color":"#666666","fontSize":11.5},"encoding":{"text":{"field":"label"}}},
{"data":{"values":[{"label":"–","t":"2023-02-15T10:19Z","sell":83.8}]},"mark":{"type":"text","align":"center","baseline":"middle","color":"#777777"},"encoding":{"text":{"field":"label"}}},
{"data":{"values":[{"label":"SIGNAL","t":"2023-02-15T08:06Z","sell":67.3},{"label":"DELTA","t":"2023-02-15T08:06Z","sell":47.8}]},"mark":{"type":"text","align":"center","baseline":"middle","font":"DejaVu Sans Mono","fontSize":11,"color":"#aaaaaa"},"encoding":{"text":{"field":"label"}}},
{"data":{"values":[{"label":"BUY:SELL","t":"2023-02-15T08:06Z","sell":28.3}]},"mark":{"type":"text","align":"center","baseline":"middle","font":"DejaVu Sans Mono","fontSize":11,"color":"white"},"encoding":{"text":{"field":"label"}}},
{"data":{"values":[{"label":"FXSSI.com","t":"2023-02-15T05:21Z","sell":11}]},"mark":{"type":"text","align":"left","baseline":"middle","font":"DejaVu Sans Mono","fontSize":10,"fontWeight":"bold","color":"#666666"},"encoding":{"text":{"field":"label"}}},
{"data":{"values":[{"label":"1.087","t":"2023-02-15T10:54Z","sell":11}]},"mark":{"type":"text","align":"right","baseline":"middle","font":"DejaVu Sans Mono","fontSize":8.5,"color":"#bbbbbb"},"encoding":{"text":{"field":"label"}}}
]}
]}
